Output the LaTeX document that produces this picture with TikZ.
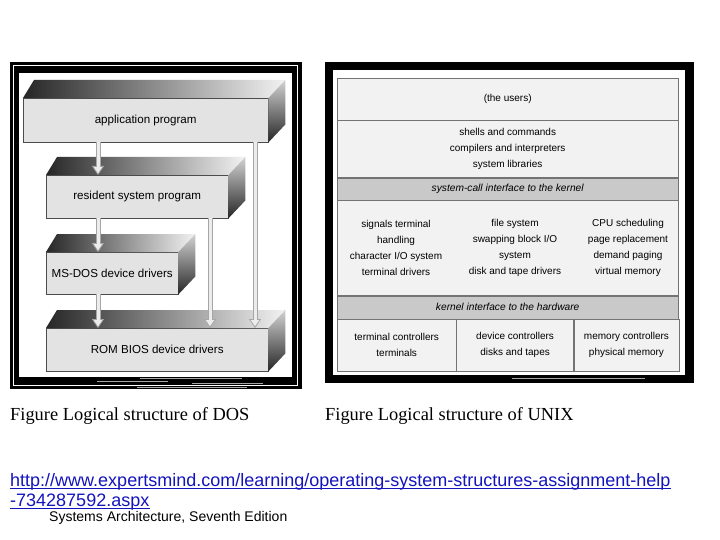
\documentclass[tikz,border=0pt]{standalone}
\usepackage{fontspec}
\setmainfont{Liberation Sans}
\newfontfamily\captionserif{Liberation Serif}
\usetikzlibrary{arrows.meta, positioning}
\definecolor{linkblue}{RGB}{20,20,190}
\tikzstyle{dosbox} = [rectangle, anchor=north west,
fill=gray!22,
draw=black!70,
inner sep=0pt,
text centered,
font=\fontsize{11.6}{14}\selectfont]
\tikzstyle{unixcell} = [rectangle, anchor=north west,
fill=gray!10,
draw=black!55,
inner sep=0pt,
minimum width=341pt,
align=center,
font=\fontsize{10}{15.7}\selectfont]
\tikzstyle{unixband} = [unixcell, fill=gray!42, font=\fontsize{10.2}{12}\selectfont\itshape]
\tikzstyle{unixtext} = [align=center, inner sep=0pt, font=\fontsize{10}{16}\selectfont]
\tikzstyle{dosarrow} = [line width=5pt, draw=gray!70,
-{Triangle[width=12pt, length=9pt, line width=0.8pt, fill=gray!15]},
postaction={draw=gray!15, line width=3pt, -, shorten >=8pt}]
\tikzstyle{plaintext} = [anchor=base west, inner sep=0pt]

\begin{document}
\begin{tikzpicture}[x=1pt, y=-1pt]
		\useasboundingbox (0,0) rectangle (720,540);
		\fill[white] (0,0) rectangle (720,540);
		% DOS frame
		\fill[black] (10,62) rectangle (302,389);
		\draw[white, line width=1pt] (13.5,65.5) rectangle (297.5,385.5);
		\fill[white] (19,73) rectangle (292,377);
		\draw[gray!70, line width=1pt] (140,378.5) -- (242,378.5) (97,381.5) -- (168,381.5)
			(192,383) -- (263,383) (137,387.5) -- (247,387.5);
		
		\node (app) [dosbox, minimum width=245pt, minimum height=44pt] at (23,98) {application program};
		\node (res) [dosbox, minimum width=182pt, minimum height=43pt] at (46,175) {resident system program};
		\node (msdos) [dosbox, minimum width=132pt, minimum height=42pt] at (46,252) {MS-DOS device drivers};
		\node (rom) [dosbox, minimum width=222pt, minimum height=43pt] at (46,328) {ROM BIOS device drivers};
		
		% top and side faces
		\shade[left color=black!85, right color=gray!10] (app.north west) -- ++(11,-18) -- ([shift={(17,-18)}]app.north east) -- (app.north east) -- cycle;
		\shade[top color=gray!35, bottom color=black!85] (app.north east) -- ++(17,-18) -- ([shift={(17,-18)}]app.south east) -- (app.south east) -- cycle;
		\shade[left color=black!85, right color=gray!10] (res.north west) -- ++(11,-18) -- ([shift={(17,-18)}]res.north east) -- (res.north east) -- cycle;
		\shade[top color=gray!35, bottom color=black!85] (res.north east) -- ++(17,-18) -- ([shift={(17,-18)}]res.south east) -- (res.south east) -- cycle;
		\shade[left color=black!85, right color=gray!10] (msdos.north west) -- ++(11,-18) -- ([shift={(17,-18)}]msdos.north east) -- (msdos.north east) -- cycle;
		\shade[top color=gray!35, bottom color=black!85] (msdos.north east) -- ++(17,-18) -- ([shift={(17,-18)}]msdos.south east) -- (msdos.south east) -- cycle;
		\shade[left color=black!85, right color=gray!10] (rom.north west) -- ++(11,-18) -- ([shift={(17,-18)}]rom.north east) -- (rom.north east) -- cycle;
		\shade[top color=gray!35, bottom color=black!85] (rom.north east) -- ++(17,-18) -- ([shift={(17,-18)}]rom.south east) -- (rom.south east) -- cycle;
		
		\draw [dosarrow]([xshift=75pt]app.south west) -- ([xshift=52pt]res.north west);
		\draw [dosarrow]([xshift=52pt]res.south west) -- ([xshift=52pt]msdos.north west);
		\draw [dosarrow]([xshift=52pt]msdos.south west) -- ([xshift=52pt]rom.north west);
		\draw [dosarrow]([xshift=164pt]res.south west) -- ([xshift=164pt]rom.north west);
		\draw [dosarrow]([xshift=232pt]app.south west) -- ([xshift=209pt]rom.north west);
		
		% UNIX frame
		\fill[black] (325,62) rectangle (694,383);
		\fill[white] (333,70) rectangle (685,375);
		\draw[gray!70, line width=1pt] (512,378.5) -- (645,378.5);
		
		\node (users) [unixcell, minimum height=42pt] at (337,78) {(the users)};
		\node (shells) [unixcell, minimum height=57pt] at (users.south west) {shells and commands\\compilers and interpreters\\system libraries};
		\node (syscall) [unixband, minimum height=22pt] at (shells.south west) {system-call interface to the kernel};
		\node (kernel) [unixcell, minimum height=95pt] at (syscall.south west) {};
		\node (signals) [unixtext] at ([xshift=59pt]kernel.west) {signals terminal\\handling\\character I/O system\\terminal drivers};
		\node (files) [unixtext] at ([xshift=178pt]kernel.west) {file system\\swapping block I/O\\system\\disk and tape drivers};
		\node (cpu) [unixtext] at ([xshift=291pt]kernel.west) {CPU scheduling\\page replacement\\demand paging\\virtual memory};
		\node (kiface) [unixband, minimum height=23pt] at (kernel.south west) {kernel interface to the hardware};
		\node (termctl) [unixcell, minimum width=119pt, minimum height=52pt] at (kiface.south west) {terminal controllers\\terminals};
		\node (devctl) [unixcell, minimum width=117pt, minimum height=52pt] at (termctl.north east) {device controllers\\disks and tapes};
		\node (memctl) [unixcell, minimum width=105pt, minimum height=52pt] at (devctl.north east) {memory controllers\\physical memory};
		
		% captions and source
		\node (doscap) [plaintext, font=\captionserif\fontsize{18.4}{22}\selectfont] at (10,420) {Figure Logical structure of DOS};
		\node (unixcap) [plaintext, font=\captionserif\fontsize{18.4}{22}\selectfont] at (325,420) {Figure Logical structure of UNIX};
		\node (url1) [plaintext, text=linkblue, font=\fontsize{18}{20}\selectfont] at (10,486.5) {http://www.expertsmind.com/learning/operating-system-structures-assignment-help};
		\node (url2) [plaintext, text=linkblue, font=\fontsize{18}{20}\selectfont] at (10,506.5) {-734287592.aspx};
		\draw [linkblue, line width=1.2pt]([yshift=-2.2pt]url1.base west) -- ([yshift=-2.2pt]url1.base east);
		\draw [linkblue, line width=1.2pt]([yshift=-2.2pt]url2.base west) -- ([yshift=-2.2pt]url2.base east);
		\node (book) [plaintext, font=\fontsize{14}{16}\selectfont] at (49,521) {Systems Architecture, Seventh Edition};
	\end{tikzpicture}
\end{document}
